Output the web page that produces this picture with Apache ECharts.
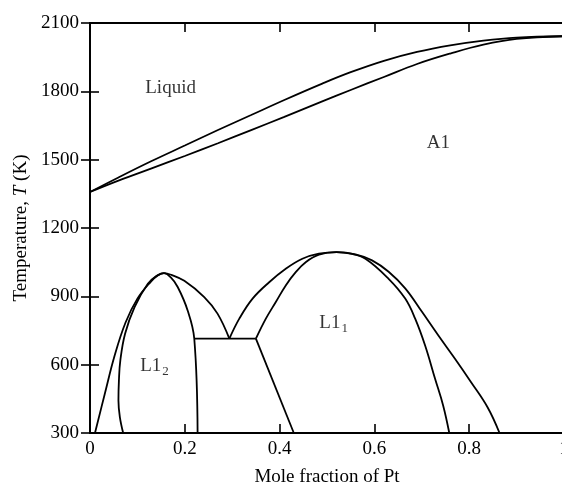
<!DOCTYPE html>
<html>
<head>
<meta charset="utf-8">
<script src="https://cdn.jsdelivr.net/npm/echarts@6/dist/echarts.min.js"></script>
<style>
  html, body { margin: 0; padding: 0; background: #fff; }
  #chart { width: 562px; height: 491px; }
</style>
</head>
<body>
<div id="chart"></div>
<script>
// phase boundaries, [mole fraction Pt, T in K]
var liquidus = [[0,1358],[0.06,1422],[0.13,1494],[0.2,1562],[0.27,1630],[0.34,1696],[0.41,1762],
    [0.49,1834],[0.55,1884],[0.62,1934],[0.69,1973],[0.76,2002],[0.83,2023],[0.9,2036],[1,2042]];
var solidus = [[0,1358],[0.06,1408],[0.13,1462],[0.2,1516],[0.27,1572],[0.34,1630],[0.41,1688],
    [0.49,1756],[0.55,1806],[0.62,1863],[0.69,1920],[0.76,1966],[0.83,2005],[0.9,2030],[1,2042]];
var l12Outer = [[0.0105,300],[0.031,470],[0.052,640],[0.075,785],[0.1,890],[0.129,966],[0.143,992],
    [0.156,1002],[0.172,994],[0.199,968],[0.241,897],[0.269,824],[0.294,714]];
var l12Inner = [[0.07,300],[0.063,370],[0.06,443],[0.061,530],[0.064,619],[0.074,736],[0.094,853],
    [0.122,955],[0.14,989],[0.156,1002],[0.17,984],[0.185,941],[0.206,838],[0.22,714],[0.227,300]];
var eutectoid = [[0.22,714],[0.35,714]];
var l11Outer = [[0.294,714],[0.315,802],[0.343,890],[0.378,962],[0.413,1021],[0.448,1065],[0.483,1087],
    [0.52,1094],[0.56,1084],[0.595,1058],[0.63,1008],[0.665,935],[0.7,833],[0.735,728],[0.77,626],
    [0.804,523],[0.839,412],[0.864,300]];
var l11Inner = [[0.35,714],[0.371,802],[0.392,875],[0.413,948],[0.434,1006],[0.455,1050],[0.483,1083],
    [0.52,1094],[0.55,1087],[0.581,1065],[0.63,977],[0.665,890],[0.686,802],[0.707,684],[0.728,538],
    [0.745,421],[0.758,300]];
var l11Edge = [[0.35,714],[0.43,300]];

// region names and where they sit
var regionNames = ['{n|Liquid}', '{n|A1}', '{n|L1}{s|2}', '{n|L1}{s|1}'];
var regionAt = [[0.17,1813],[0.735,1572],[0.136,592],[0.514,781]];

var xTicks = { min: 0, max: 1, interval: 0.2 };
var yTicks = { min: 300, max: 2100, interval: 300 };

var font = 'Liberation Serif, Times New Roman, serif';
var myChart = echarts.init(document.getElementById('chart'));

var curves = [liquidus, solidus, l12Outer, l12Inner, eutectoid, l11Outer, l11Inner, l11Edge];
var series = [];
for (var i = 0; i < curves.length; i++) {
    series.push({
        type: 'line',
        data: curves[i],
        showSymbol: false,
        smooth: curves[i].length > 2 ? 0.4 : false,
        lineStyle: { color: '#000', width: 1.8 },
        silent: true,
        animation: false
    });
}
var labelData = [];
for (var j = 0; j < regionNames.length; j++) {
    labelData.push({ value: regionAt[j], name: regionNames[j] });
}
series.push({
    type: 'scatter',
    symbolSize: 0,
    data: labelData,
    animation: false,
    label: {
        show: true,
        position: 'inside',
        formatter: function (p) { return p.name; },
        rich: {
            n: { fontFamily: font, fontSize: 19, color: '#000', lineHeight: 20, verticalAlign: 'top' },
            s: { fontFamily: font, fontSize: 13, color: '#000', lineHeight: 13, verticalAlign: 'top', padding: [9, 0, 0, 1] }
        }
    }
});

var axisLine = { show: true, lineStyle: { color: '#000', width: 1.8 } };
var tick = { show: true, inside: true, length: 9, lineStyle: { color: '#000', width: 1.6 } };
var lbl = { color: '#000', fontFamily: font, fontSize: 19 };

myChart.setOption({
    backgroundColor: '#fff',
    grid: { left: 90, top: 23, width: 474, height: 410, outerBoundsMode: 'none', containLabel: false },
    xAxis: [
        {
            type: 'value', min: xTicks.min, max: xTicks.max, interval: xTicks.interval,
            position: 'bottom',
            axisLine: axisLine, axisTick: tick, splitLine: { show: false },
            axisLabel: Object.assign({ margin: 7, formatter: function (v) { return String(v); } }, lbl),
            name: 'Mole fraction of Pt', nameLocation: 'middle', nameGap: 35,
            nameTextStyle: { color: '#000', fontFamily: font, fontSize: 19 }
        },
        {
            type: 'value', min: xTicks.min, max: xTicks.max, interval: xTicks.interval,
            position: 'top',
            axisLine: axisLine, axisTick: tick, splitLine: { show: false },
            axisLabel: { show: false }
        }
    ],
    yAxis: [
        {
            type: 'value', min: yTicks.min, max: yTicks.max, interval: yTicks.interval,
            position: 'left',
            axisLine: axisLine, axisTick: tick, splitLine: { show: false },
            axisLabel: Object.assign({ margin: 11, formatter: function (v) { return String(v); } }, lbl),
            name: '{a|Temperature, }{i|T}{a| (K)}', nameLocation: 'middle', nameGap: 58,
            nameTextStyle: {
                color: '#000', fontFamily: font, fontSize: 19,
                rich: {
                    a: { color: '#000', fontFamily: font, fontSize: 19 },
                    i: { color: '#000', fontFamily: font, fontSize: 19, fontStyle: 'italic' }
                }
            }
        },
        {
            type: 'value', min: yTicks.min, max: yTicks.max, interval: yTicks.interval,
            position: 'right',
            axisLine: axisLine, axisTick: tick, splitLine: { show: false },
            axisLabel: { show: false }
        }
    ],
    series: series
});
</script>
</body>
</html>
